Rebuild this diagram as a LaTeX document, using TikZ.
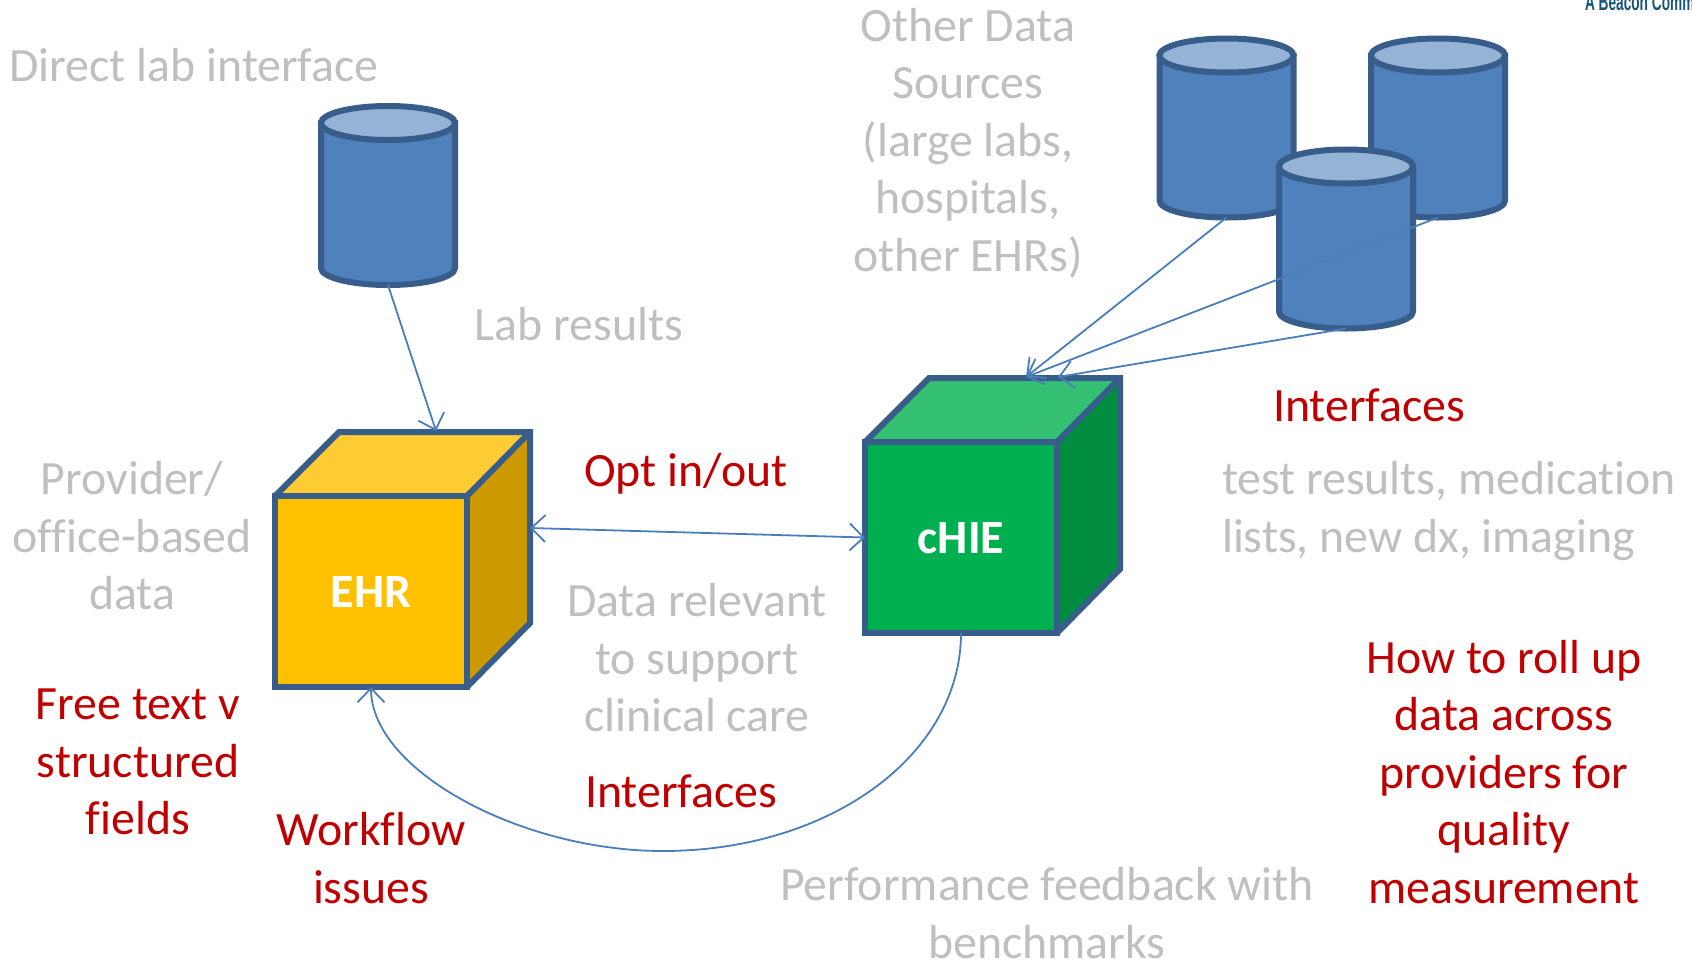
\documentclass[tikz,border=0pt]{standalone}
\usepackage{fontspec}
\setmainfont[Ligatures={NoCommon}]{Carlito}
\newfontfamily\logofont{Liberation Sans}
\usetikzlibrary{arrows.meta}
\definecolor{strokeblue}{HTML}{385D8A}
\definecolor{cylbody}{HTML}{4F81BD}
\definecolor{cyltop}{HTML}{95B3D7}
\definecolor{linkblue}{HTML}{4A7EBB}
\definecolor{greytext}{HTML}{BFBFBF}
\definecolor{redtext}{HTML}{C00000}
\definecolor{yfront}{HTML}{FFC000}
\definecolor{ytop}{HTML}{FFCD33}
\definecolor{yside}{HTML}{CC9A00}
\definecolor{gfront}{HTML}{00B050}
\definecolor{gtop}{HTML}{33C073}
\definecolor{gside}{HTML}{008D40}
\definecolor{logoblue}{HTML}{17557F}
\tikzset{
  x=1pt,y=-1pt,
  every node/.style={inner sep=0pt,outer sep=0pt},
  facestyle/.style={draw=strokeblue,line width=6pt,line join=miter},
  link/.style={draw=linkblue,line width=1.8pt},
  tipend/.style={-{Straight Barb[length=14pt,width=27pt,line width=1.8pt]}},
  tipboth/.style={{Straight Barb[length=14pt,width=27pt,line width=1.8pt]}-{Straight Barb[length=14pt,width=27pt,line width=1.8pt]}},
  grey/.style={font=\fontsize{47.8}{57.5}\selectfont,text=greytext,align=center},
  red/.style={font=\fontsize{47.8}{57.5}\selectfont,text=redtext,align=center},
  pics/dbcyl/.style={code={
    \node[minimum width=134pt,minimum height=179pt] (n) at (0,0) {};
    \path[facestyle,fill=cylbody]
      (-67,-72.5) -- (-67,72.5)
      .. controls (-67,81.9) and (-37,89.5) .. (0,89.5)
      .. controls (37,89.5) and (67,81.9) .. (67,72.5)
      -- (67,-72.5) -- cycle;
    \path[facestyle,fill=cyltop] (0,-72.5) ellipse [x radius=67pt,y radius=17pt];
  }},
  pics/cube/.style n args={4}{code={
    \fill[#4] (96,-96) -- (159,-160) -- (159,31) -- (96,95) -- cycle;
    \fill[#3] (-96,-96) -- (-32,-160) -- (159,-160) -- (96,-96) -- cycle;
    \path[facestyle] (-96,-96) -- (-32,-160) -- (159,-160) -- (159,31) -- (96,95);
    \path[facestyle] (96,-96) -- (159,-160);
    \node[facestyle,fill=#2,minimum width=192pt,minimum height=191pt] (front) at (0,-0.5) {};
    \node[text=white,font=\fontsize{47.8}{57.5}\selectfont\bfseries] (label) at (0,0) {#1};
    \coordinate (topa) at (65,-161);
    \coordinate (topb) at (97,-161);
    \coordinate (side) at (159,-64);
  }}
}
\begin{document}
\begin{tikzpicture}
\useasboundingbox (0,0) rectangle (1692,964);
\clip (0,0) rectangle (1692,964);
\fill[white] (0,0) rectangle (1692,964);

\pic (laba) at (388,195.5) {dbcyl};
\pic (srca) at (1226.5,128) {dbcyl};
\pic (srcb) at (1438,128) {dbcyl};
\pic (srcc) at (1346,239) {dbcyl};

\pic (ehr) at (371,592) {cube={EHR}{yfront}{ytop}{yside}};
\pic (chie) at (961,538) {cube={cHIE}{gfront}{gtop}{gside}};

\draw[link,tipend] (laban.south) -- (ehrtopa);
\draw[link,tipend] (srcan.south) -- (chietopa);
\draw[link,tipend] (srcbn.south) -- (chietopa);
\draw[link,tipend] (srccn.south) -- (chietopb);
\draw[link,tipboth] (ehrside) -- (chiefront.west);
\coordinate (low) at (663,851);
\draw[link,tipend] (chiefront.south)
  .. controls (961,755) and (830,851) .. (low)
  .. controls (520,851) and (371,770) .. (ehrfront.south);

\node[grey] (t1) at (194,65) {Direct lab interface};
\node[grey] (t2) at (968,143) {Other Data\\Sources\\(large labs,\\hospitals,\\other EHRs)};
\node[grey] (t3) at (579,324) {Lab results};
\node[grey] (t4) at (132,536) {Provider/\\office-based\\data};
\node[red] (t5) at (686,474) {Opt in/out};
\node[grey] (t6) at (697,658) {Data relevant\\to support\\clinical care};
\node[red] (t7) at (1369,405) {Interfaces};
\node[grey,align=left] (t8) at (1449,511) {test results, medication\\lists, new dx, imaging};
\node[red] (t9) at (1504,772) {How to roll up\\data across\\providers for\\quality\\measurement};
\node[red] (t10) at (138,762) {Free text v\\structured\\fields};
\node[red] (t11) at (371,858) {Workflow\\issues};
\node[red] (t12) at (681,791) {Interfaces};
\node[grey] (t13) at (1047,913) {Performance feedback with\\benchmarks};
\node[anchor=base west,text=logoblue,font=\logofont\bfseries\fontsize{24}{26}\selectfont,xscale=0.57] (logo) at (1585,10) {A Beacon Comm};
\end{tikzpicture}
\end{document}
